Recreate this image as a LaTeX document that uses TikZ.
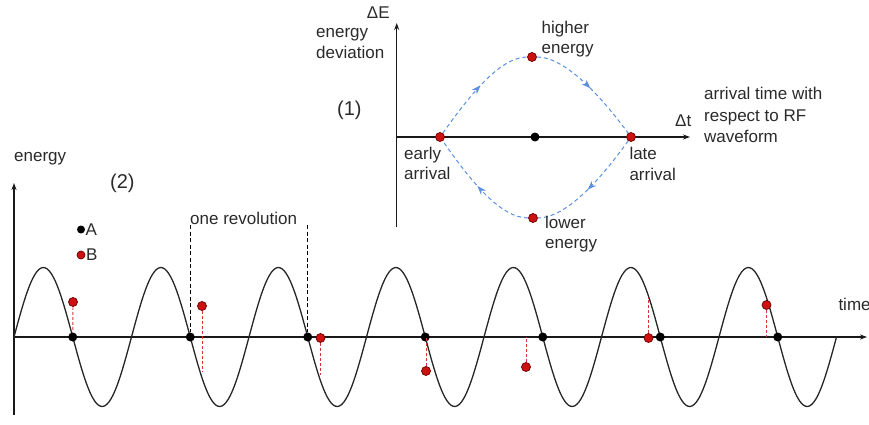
\documentclass[tikz,border=0pt]{standalone}
\usepackage{fontspec}
\setmainfont{Liberation Sans}
\usetikzlibrary{arrows.meta,decorations.markings}
\definecolor{dotred}{HTML}{CC1111}
\definecolor{dotedge}{HTML}{6B0000}
\definecolor{flowblue}{HTML}{5B8FE0}
\definecolor{txt}{HTML}{2A2A2A}
\tikzset{
  lbl/.style={inner sep=0pt, text=txt, font=\fontsize{17}{21}\selectfont, anchor=base west},
  big/.style={inner sep=0pt, text=txt, font=\fontsize{20}{24}\selectfont, anchor=base west},
  bdot/.style={circle, fill=black, inner sep=0pt, minimum size=9pt},
  rdot/.style={circle, fill=dotred, draw=dotedge, line width=0.7pt, inner sep=0pt, minimum size=9pt},
  axisline/.style={line width=1.1pt, draw=black!90, -{Stealth[length=7pt,width=5pt]}},
  wave/.style={line width=1.3pt, draw=black!85},
  rdash/.style={draw=dotred!85, dash pattern=on 3pt off 2pt, line width=0.9pt},
  kdash/.style={draw=black, dash pattern=on 4pt off 2.5pt, line width=0.9pt},
  flow/.style={draw=flowblue, dash pattern=on 4pt off 3pt, line width=1pt, postaction={decorate},
    decoration={markings, mark=at position 0.52 with {\arrow[flowblue]{Stealth[length=9pt,width=6.5pt]}}}},
}
\begin{document}
\begin{tikzpicture}[x=1pt,y=-1pt]
\useasboundingbox (0,0) rectangle (869,425);

% ---------- (1) phase space ----------
\coordinate (o1) at (396.7,137);
\coordinate (e1top) at (396.7,23);
\coordinate (e1bot) at (396.7,227);
\coordinate (t1end) at (690,137);
\draw[axisline] (e1bot) -- (e1top);
\draw[axisline] (o1) -- (t1end);

\node[rdot] (early) at (440,137) {};
\node[rdot] (high) at (532,57) {};
\node[rdot] (late) at (631,137) {};
\node[rdot] (low) at (533,218) {};
\node[bdot] (mid) at (535,137) {};

\draw[flow] (early) .. controls (470,95) and (500,57) .. (high);
\draw[flow] (high) .. controls (565,57) and (600,95) .. (late);
\draw[flow] (late) .. controls (600,180) and (566,218) .. (low);
\draw[flow] (low) .. controls (500,218) and (470,180) .. (early);

\node[lbl] (dE) at (366.7,18.3) {ΔE};
\node[lbl] (devA) at (316,37.3) {energy};
\node[lbl] (devB) at (316,58.3) {deviation};
\node[big] (one) at (337,115) {(1)};
\node[lbl] (hiA) at (541.5,33.3) {higher};
\node[lbl] (hiB) at (541.5,53.3) {energy};
\node[lbl] (eaA) at (404,159.3) {early};
\node[lbl] (eaB) at (404,179.3) {arrival};
\node[lbl] (laA) at (629.3,159.3) {late};
\node[lbl] (laB) at (629.3,180) {arrival};
\node[lbl] (loA) at (545,228.3) {lower};
\node[lbl] (loB) at (545,248.3) {energy};
\node[lbl] (dt) at (675,126.7) {Δt};
\node[lbl] (atA) at (704,100) {arrival time with};
\node[lbl] (atB) at (704,121.5) {respect to RF};
\node[lbl] (atC) at (704,142.7) {waveform};

% ---------- (2) time domain ----------
\coordinate (o2) at (14,337);
\coordinate (y2top) at (14,183);
\coordinate (y2bot) at (14,415);
\coordinate (x2end) at (867,337);
\draw[axisline] (y2bot) -- (y2top);
\draw[axisline] (o2) -- (x2end);
\draw[wave] plot[domain=14:836.5, samples=400, smooth] (\x, {337-69.5*sin(3.063830*(\x-14))});

\foreach \i in {0,...,6} \node[bdot] (a\i) at ({72.75+117.5*\i},337) {};

\node[rdot] (b1) at (73,302) {};
\node[rdot] (b2) at (202,306) {};
\node[rdot] (b3) at (320.5,338) {};
\node[rdot] (b4) at (426,371) {};
\node[rdot] (b5) at (526,367) {};
\node[rdot] (b6) at (648.5,338) {};
\node[rdot] (b7) at (766.5,305) {};

\coordinate (c2) at (202,372);
\coordinate (c3) at (320.5,375);
\coordinate (c4) at (426,337);
\coordinate (c5) at (526,337);
\coordinate (c6) at (648.5,298);
\coordinate (c7) at (766.5,337);
\draw[rdash] (b1) -- (a0);
\draw[rdash] (b2) -- (c2);
\draw[rdash] (b3) -- (c3);
\draw[rdash] (b4) -- (c4);
\draw[rdash] (b5) -- (c5);
\draw[rdash] (b6) -- (c6);
\draw[rdash] (b7) -- (c7);

\coordinate (r1) at (190.25,225);
\coordinate (r2) at (307.75,225);
\draw[kdash] (r1) -- (a1);
\draw[kdash] (r2) -- (a2);
\node[lbl] (rev) at (190,224) {one revolution};

\node[bdot, minimum size=8pt] (legA) at (81,229.5) {};
\node[rdot, minimum size=8pt] (legB) at (81,255) {};
\node[lbl] (txtA) at (85.5,235.7) {A};
\node[lbl] (txtB) at (86,260.7) {B};

\node[lbl] (en) at (14,161.7) {energy};
\node[big] (two) at (110,188.3) {(2)};
\node[lbl] (time) at (838.3,310) {time};
\end{tikzpicture}
\end{document}
